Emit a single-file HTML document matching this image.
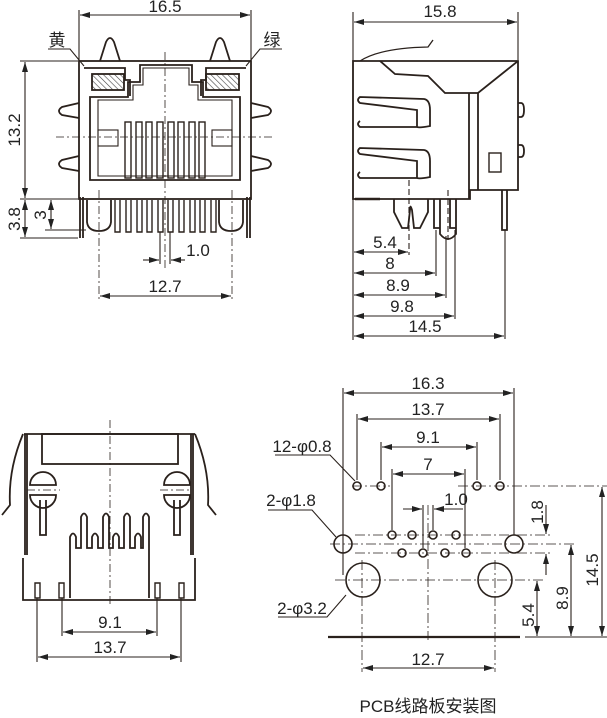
<!DOCTYPE html>
<html><head><meta charset="utf-8"><style>
html,body{margin:0;padding:0;background:#fff;}
svg{display:block}
text{font-family:"Liberation Sans","Noto Sans CJK SC",sans-serif;font-size:17px;fill:#222;}
</style></head><body>
<svg width="607" height="718" viewBox="0 0 607 718" xmlns="http://www.w3.org/2000/svg">
<defs>
<marker id="a" viewBox="0 0 10 6" refX="10" refY="3" markerWidth="10" markerHeight="6" orient="auto-start-reverse" markerUnits="userSpaceOnUse"><path d="M0,0 L10,3 L0,6z" fill="#222"/></marker>
<pattern id="h" width="4" height="4" patternUnits="userSpaceOnUse" patternTransform="rotate(-45)"><line x1="0" y1="0" x2="0" y2="4" stroke="#444" stroke-width="1.2"/></pattern>
</defs>
<g fill="none" stroke="#2a211c" stroke-width="1.1">
<!-- ===== TOP LEFT VIEW ===== -->
<line x1="79" y1="10" x2="79" y2="60"/><line x1="251" y1="10" x2="251" y2="60"/>
<line x1="80" y1="15" x2="250" y2="15" marker-start="url(#a)" marker-end="url(#a)"/>
<g stroke-width="1.8">
<rect x="79" y="61" width="172" height="138"/>
<path d="M84,68 H125 V80 H130 V96 M246,68 H206 V80 H201 V96"/>
<path d="M90,97 H128 V82 H140 V65 H192 V82 H203 V97 H240 V180 H90 Z"/>
<path d="M98,100 H133 V85 H143 V68 H189 V85 H198 V100 H232 V176 H98 Z" stroke-width="1.1"/>
<path d="M100,61 L106,42 Q110,34 114,42 L120,61"/>
<path d="M210,61 L216,42 Q220,34 224,42 L230,61"/>
<path d="M79,103 L62,107 Q56,111 62,115 L79,118"/>
<path d="M79,156 L62,160 Q56,164 62,168 L79,171"/>
<path d="M251,103 L268,107 Q274,111 268,115 L251,118"/>
<path d="M251,156 L268,160 Q274,164 268,168 L251,171"/>
<path d="M80,197 V238 M83,197 V238 M247,197 V238 M250,197 V238"/>
<path d="M87,200 V222 Q88,231 99,231 Q110,231 111,222 V200"/>
<path d="M219,200 V222 Q220,231 231,231 Q242,231 243,222 V200"/>
</g>
<rect x="92" y="74" width="32" height="16" fill="url(#h)" stroke-width="1.8"/>
<rect x="206" y="74" width="33" height="16" fill="url(#h)" stroke-width="1.8"/>
<rect x="98" y="130" width="20" height="16"/><rect x="212" y="130" width="20" height="16"/>
<g stroke-width="1.4">
<rect x="125" y="122" width="6" height="56"/><rect x="136" y="122" width="6" height="56"/>
<rect x="146" y="122" width="6" height="56"/><rect x="157" y="122" width="6" height="56"/>
<rect x="168" y="122" width="6" height="56"/><rect x="178" y="122" width="6" height="56"/>
<rect x="189" y="122" width="6" height="56"/><rect x="199" y="122" width="6" height="56"/>
<path d="M115,200 V232 H120 V200 M126,200 V232 H131 V200 M137,200 V232 H142 V200 M147,200 V232 H152 V200 M158,200 V232 H163 V200 M168,200 V232 H173 V200 M179,200 V232 H184 V200 M190,200 V232 H195 V200 M200,200 V232 H205 V200 M211,200 V232 H216 V200"/>
</g>
<g stroke-dasharray="8,3,2,3" stroke-width="0.8">
<line x1="165" y1="52" x2="165" y2="270"/><line x1="56" y1="137" x2="274" y2="137"/>
<line x1="99" y1="190" x2="99" y2="300"/><line x1="232" y1="190" x2="232" y2="300"/>
</g>
<line x1="20" y1="61" x2="78" y2="61"/><line x1="20" y1="199" x2="78" y2="199"/><line x1="20" y1="238" x2="78" y2="238"/><line x1="45" y1="230" x2="86" y2="230"/>
<line x1="25" y1="62" x2="25" y2="198" marker-start="url(#a)" marker-end="url(#a)"/>
<line x1="25" y1="200" x2="25" y2="237" marker-start="url(#a)" marker-end="url(#a)"/>
<line x1="51" y1="200" x2="51" y2="229" marker-start="url(#a)" marker-end="url(#a)"/>
<line x1="160" y1="232" x2="160" y2="264"/><line x1="170" y1="232" x2="170" y2="264"/>
<line x1="143" y1="260" x2="159" y2="260" marker-end="url(#a)"/><line x1="185" y1="260" x2="171" y2="260" marker-end="url(#a)"/>
<line x1="100" y1="296" x2="231" y2="296" marker-start="url(#a)" marker-end="url(#a)"/>
<path d="M48,49 H70 L84,66 M282,49 H260 L246,66"/>
<!-- ===== TOP RIGHT VIEW ===== -->
<line x1="353" y1="12" x2="353" y2="340"/><line x1="518" y1="12" x2="518" y2="60"/>
<line x1="354" y1="22" x2="517" y2="22" marker-start="url(#a)" marker-end="url(#a)"/>
<g stroke-width="1.8">
<path d="M353,61 H518 V190 H470 V199 H353 Z"/>
<path d="M380,61 L395,74 L428,76 L445,93 H478 L518,61"/>
<path d="M469,93 V199 M478,93 V190"/>
<path d="M518,103 h3 q3,0 3,7 q0,7 -3,7 h-3 M518,145 h3 q3,0 3,6 q0,6 -3,6 h-3"/>
<path d="M360,61 Q380,48 428,47 L433,40" stroke-width="1.3"/>
<path d="M360,97 Q356,100 360,103 L417,110 V127 Q420,128 430,126 V110 Q430,100 424,99 L360,97 Z M360,121 Q356,124 360,127 L417,127"/>
<path d="M360,148 Q356,151 360,154 L417,161 V178 Q420,179 430,177 V161 Q430,151 424,150 L360,148 Z M360,172 Q356,175 360,178 L417,178"/>
<rect x="489" y="153" width="12" height="19" stroke-width="1.4"/>
<path d="M394,199 V212 L402,228 H408 L410,210 Q410,203 412,210 L414,228 H420 L428,212 V199"/>
<path d="M434,199 V228 H440 V199 M440,199 V234 Q448,244 456,234 V199 M450,199 V228 H456"/>
<path d="M502,190 V230 H507 V190"/>
<path d="M355,199 H380" stroke-width="2.4"/>
</g>
<line x1="409" y1="180" x2="409" y2="255" stroke-dasharray="6,3"/>
<line x1="436" y1="230" x2="436" y2="276"/><line x1="446" y1="236" x2="446" y2="298"/><line x1="455" y1="230" x2="455" y2="319"/><line x1="505" y1="230" x2="505" y2="339"/>
<line x1="448" y1="190" x2="448" y2="240" stroke-dasharray="6,3"/>
<line x1="354" y1="252" x2="408" y2="252" marker-start="url(#a)" marker-end="url(#a)"/>
<line x1="354" y1="273" x2="435" y2="273" marker-start="url(#a)" marker-end="url(#a)"/>
<line x1="354" y1="295" x2="445" y2="295" marker-start="url(#a)" marker-end="url(#a)"/>
<line x1="354" y1="316" x2="454" y2="316" marker-start="url(#a)" marker-end="url(#a)"/>
<line x1="354" y1="336" x2="504" y2="336" marker-start="url(#a)" marker-end="url(#a)"/>
<!-- ===== BOTTOM LEFT VIEW ===== -->
<g stroke-width="1.8">
<path d="M24,434 H195 M25,434 V555 M193,434 V555 M23,558 V600 H195 V558"/>
<path d="M27,434 V555 M191,434 V555"/>
<rect x="42" y="434" width="136" height="30"/>
<path d="M23,434 Q8,470 10,505 L2,515 M195,434 Q210,470 208,505 L216,515"/>
<path d="M30,485 A13,13 0 0,1 56,485 Z M30,495 A13,13 0 0,0 56,495 Z M40,500 V535 H46 V500"/>
<path d="M164,485 A13,13 0 0,1 190,485 Z M164,495 A13,13 0 0,0 190,495 Z M174,500 V535 H180 V500"/>
<path d="M70,598 V537 Q73,530 76,537 V548 H81 V517 Q84,510 87,517 V548 H92 V537 Q95,530 98,537 V548 H103 V517 Q106,510 109,517 V548 H113 V537 Q116,530 119,537 V548 H124 V517 Q127,510 130,517 V548 H135 V537 Q138,530 141,537 V548 H143 V517 Q146,510 149,517 V598"/>
</g>
<path d="M35,583 h5 v15 h-5z M59,583 h5 v15 h-5z M155,583 h5 v15 h-5z M179,583 h5 v15 h-5z" stroke-width="1.4"/>
<line x1="37" y1="598" x2="37" y2="662"/><line x1="181" y1="598" x2="181" y2="662"/>
<line x1="62" y1="598" x2="62" y2="636"/><line x1="157" y1="598" x2="157" y2="636"/>
<line x1="63" y1="632" x2="156" y2="632" marker-start="url(#a)" marker-end="url(#a)"/>
<line x1="38" y1="657" x2="180" y2="657" marker-start="url(#a)" marker-end="url(#a)"/>
<g stroke-dasharray="8,3,2,3" stroke-width="0.8">
<line x1="110" y1="420" x2="110" y2="605"/><line x1="27" y1="490" x2="60" y2="490"/><line x1="160" y1="490" x2="192" y2="490"/>
</g>
<!-- ===== BOTTOM RIGHT PCB ===== -->
<g>
<line x1="343" y1="388" x2="343" y2="575"/><line x1="514" y1="388" x2="514" y2="535"/>
<line x1="357" y1="414" x2="357" y2="480"/><line x1="500" y1="414" x2="500" y2="480"/>
<line x1="381" y1="442" x2="381" y2="480"/><line x1="477" y1="442" x2="477" y2="480"/>
<line x1="392" y1="469" x2="392" y2="530"/><line x1="465" y1="469" x2="465" y2="548"/>
<line x1="423" y1="505" x2="423" y2="548"/><line x1="433" y1="505" x2="433" y2="530"/>
<line x1="344" y1="393" x2="513" y2="393" marker-start="url(#a)" marker-end="url(#a)"/>
<line x1="358" y1="419" x2="499" y2="419" marker-start="url(#a)" marker-end="url(#a)"/>
<line x1="382" y1="447" x2="476" y2="447" marker-start="url(#a)" marker-end="url(#a)"/>
<line x1="393" y1="474" x2="464" y2="474" marker-start="url(#a)" marker-end="url(#a)"/>
<line x1="403" y1="509" x2="422" y2="509" marker-end="url(#a)"/><line x1="463" y1="509" x2="434" y2="509" marker-end="url(#a)"/>
</g>
<g stroke-dasharray="10,3,2,3" stroke-width="0.8">
<line x1="352" y1="486" x2="390" y2="486"/><line x1="458" y1="486" x2="607" y2="486" />
<line x1="355" y1="535" x2="550" y2="535"/><line x1="330" y1="544" x2="575" y2="544"/><line x1="355" y1="553" x2="550" y2="553"/>
<line x1="335" y1="580" x2="545" y2="580"/>
<line x1="428" y1="505" x2="428" y2="640"/><line x1="362" y1="560" x2="362" y2="672"/><line x1="495" y1="560" x2="495" y2="672"/>
</g>
<g stroke-width="1.6">
<circle cx="357" cy="486" r="4"/><circle cx="381" cy="486" r="4"/><circle cx="477" cy="486" r="4"/><circle cx="500" cy="486" r="4"/>
<circle cx="392" cy="535" r="4"/><circle cx="412" cy="535" r="4"/><circle cx="433" cy="535" r="4"/><circle cx="456" cy="535" r="4"/>
<circle cx="402" cy="553" r="4"/><circle cx="423" cy="553" r="4"/><circle cx="445" cy="553" r="4"/><circle cx="466" cy="553" r="4"/>
<circle cx="343" cy="544" r="9"/><circle cx="514" cy="544" r="9"/>
<circle cx="363" cy="580" r="17"/><circle cx="495" cy="580" r="17"/>
</g>
<line x1="328" y1="637" x2="520" y2="637" stroke-width="2.2"/>
<line x1="363" y1="668" x2="494" y2="668" marker-start="url(#a)" marker-end="url(#a)"/>
<line x1="525" y1="637" x2="607" y2="637"/>
<line x1="546" y1="505" x2="546" y2="534" marker-end="url(#a)"/><line x1="546" y1="575" x2="546" y2="554" marker-end="url(#a)"/>
<line x1="571" y1="545" x2="571" y2="636" marker-start="url(#a)" marker-end="url(#a)"/>
<line x1="537" y1="581" x2="537" y2="636" marker-start="url(#a)" marker-end="url(#a)"/>
<line x1="602" y1="487" x2="602" y2="636" marker-start="url(#a)" marker-end="url(#a)"/>
<path d="M275,455 H330 L355,481 M268,510 H312 L336,537 M278,617 H327 L346,595"/>
</g>
<g>
<text x="165" y="12" text-anchor="middle">16.5</text>
<text x="57" y="46" text-anchor="middle" font-size="15">黄</text>
<text x="272" y="46" text-anchor="middle" font-size="15">绿</text>
<text transform="translate(20,130) rotate(-90)" text-anchor="middle">13.2</text>
<text transform="translate(20,219) rotate(-90)" text-anchor="middle">3.8</text>
<text transform="translate(46,215) rotate(-90)" text-anchor="middle">3</text>
<text x="198" y="256" text-anchor="middle">1.0</text>
<text x="165" y="292" text-anchor="middle">12.7</text>
<text x="440" y="17" text-anchor="middle">15.8</text>
<text x="385" y="248" text-anchor="middle">5.4</text>
<text x="390" y="269" text-anchor="middle">8</text>
<text x="398" y="291" text-anchor="middle">8.9</text>
<text x="402" y="312" text-anchor="middle">9.8</text>
<text x="425" y="332" text-anchor="middle">14.5</text>
<text x="110" y="628" text-anchor="middle">9.1</text>
<text x="110" y="653" text-anchor="middle">13.7</text>
<text x="428" y="389" text-anchor="middle">16.3</text>
<text x="428" y="415" text-anchor="middle">13.7</text>
<text x="428" y="443" text-anchor="middle">9.1</text>
<text x="428" y="470" text-anchor="middle">7</text>
<text x="456" y="505" text-anchor="middle">1.0</text>
<text x="428" y="665" text-anchor="middle">12.7</text>
<text x="302" y="452" text-anchor="middle">12-φ0.8</text>
<text x="291" y="506" text-anchor="middle">2-φ1.8</text>
<text x="302" y="614" text-anchor="middle">2-φ3.2</text>
<text transform="translate(543,512) rotate(-90)" text-anchor="middle">1.8</text>
<text transform="translate(568,598) rotate(-90)" text-anchor="middle">8.9</text>
<text transform="translate(534,615) rotate(-90)" text-anchor="middle">5.4</text>
<text transform="translate(598,570) rotate(-90)" text-anchor="middle">14.5</text>
<text x="428" y="712" text-anchor="middle" font-size="15">PCB线路板安装图</text>
</g>
</svg>
</body></html>
